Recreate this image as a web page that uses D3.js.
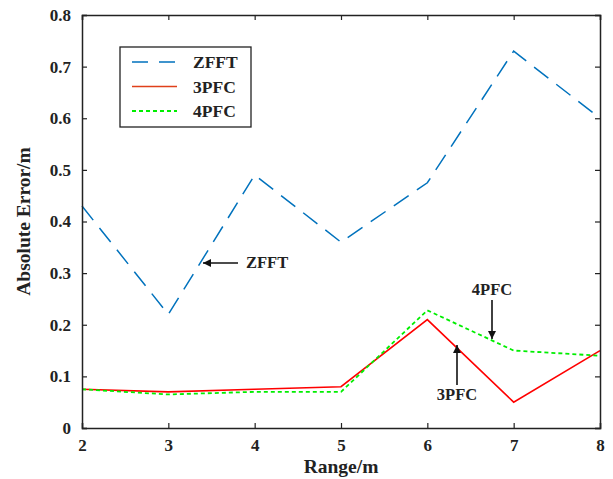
<!DOCTYPE html>
<html>
<head>
<meta charset="utf-8">
<script src="https://cdn.jsdelivr.net/npm/d3@7"></script>
<style>
  body { margin: 0; background: #fff; }
  svg text { font-family: "Liberation Serif", "DejaVu Serif", serif !important; font-weight: bold; fill: #222; }
</style>
</head>
<body>
<svg id="chart" width="613" height="479"></svg>
<script>
// values
const ranges = [2, 3, 4, 5, 6, 7, 8];
const zfft = [0.43, 0.22, 0.49, 0.36, 0.475, 0.73, 0.60];
const pfc3 = [0.075, 0.07, 0.075, 0.08, 0.21, 0.05, 0.15];
const pfc4 = [0.075, 0.065, 0.07, 0.07, 0.228, 0.15, 0.14];
const yTicks = [0, 0.1, 0.2, 0.3, 0.4, 0.5, 0.6, 0.7, 0.8];

const svg = d3.select('#chart');
const plotL = 82, plotR = 600, plotT = 15, plotB = 428;

const x = d3.scaleLinear().domain([2, 8]).range([plotL, plotR]);
const y = d3.scaleLinear().domain([0, 0.8]).range([plotB, plotT]);

const series = [
    {name: 'ZFFT', vals: zfft, color: '#0072BD', dash: '18,10', width: 1.5},
    {name: '3PFC', vals: pfc3, color: '#ff0000', dash: null, width: 1.6},
    {name: '4PFC', vals: pfc4, color: '#00ee00', dash: '4,3', width: 1.8}
];

const line = d3.line().x((d, i) => x(ranges[i])).y(d => y(d));

series.forEach(s => {
    svg.append('path')
        .attr('d', line(s.vals))
        .attr('fill', 'none')
        .attr('stroke', s.color)
        .attr('stroke-width', s.width)
        .attr('stroke-dasharray', s.dash);
});

// axes, ticks pointing inward on all four sides
const tl = 5;
const axisCol = '#222';
svg.append('g').attr('transform', `translate(0,${plotB})`)
    .call(d3.axisBottom(x).tickValues(ranges).tickSize(-tl).tickPadding(11).tickFormat(d3.format('d')));
svg.append('g').attr('transform', `translate(0,${plotT})`)
    .call(d3.axisTop(x).tickValues(ranges).tickSize(-tl).tickFormat(''));
svg.append('g').attr('transform', `translate(${plotL},0)`)
    .call(d3.axisLeft(y).tickValues(yTicks).tickSize(-tl).tickPadding(11).tickFormat(d => d === 0 ? '0' : d3.format('.1f')(d)));
svg.append('g').attr('transform', `translate(${plotR},0)`)
    .call(d3.axisRight(y).tickValues(yTicks).tickSize(-tl).tickFormat(''));

svg.selectAll('.domain').attr('stroke', axisCol).attr('stroke-width', 1.5);
svg.selectAll('.tick line').attr('stroke', axisCol).attr('stroke-width', 1.2);
svg.selectAll('.tick text')
    .style('font-size', '17px')
    .attr('fill', '#222');

// axis titles
svg.append('text')
    .attr('x', (plotL + plotR) / 2).attr('y', 473)
    .attr('text-anchor', 'middle')
    .style('font-size', '19.5px')
    .text('Range/m');
svg.append('text')
    .attr('transform', `translate(30,${(plotT + plotB) / 2}) rotate(-90)`)
    .attr('text-anchor', 'middle')
    .style('font-size', '19.5px')
    .text('Absolute Error/m');

// legend
const lg = svg.append('g').attr('transform', 'translate(120,47)');
lg.append('rect')
    .attr('width', 131).attr('height', 80)
    .attr('fill', '#fff').attr('stroke', '#222').attr('stroke-width', 1.3);
series.forEach((s, i) => {
    const ly = 15 + i * 24.5;
    lg.append('line')
        .attr('x1', 12).attr('x2', 57).attr('y1', ly).attr('y2', ly)
        .attr('stroke', s.name === '3PFC' ? '#e0401a' : s.color)
        .attr('stroke-width', s.width)
        .attr('stroke-dasharray', s.name === 'ZFFT' ? '16,11' : s.dash);
    lg.append('text')
        .attr('x', 73).attr('y', ly + 6)
        .style('font-size', '17.5px')
        .text(s.name);
});

// annotations
svg.append('defs').append('marker')
    .attr('id', 'ah').attr('viewBox', '0 0 10 10')
    .attr('refX', 10).attr('refY', 5)
    .attr('markerUnits', 'userSpaceOnUse')
    .attr('markerWidth', 11).attr('markerHeight', 8)
    .attr('orient', 'auto')
    .append('path').attr('d', 'M0,0 L10,5 L0,10 z').attr('fill', '#111');

const notes = [
    {text: 'ZFFT', tx: 246, ty: 268, anchor: 'start', x1: 238, y1: 263, x2: 203, y2: 263},
    {text: '4PFC', tx: 492, ty: 295, anchor: 'middle', x1: 492, y1: 300, x2: 492, y2: 339},
    {text: '3PFC', tx: 457, ty: 400, anchor: 'middle', x1: 457, y1: 385, x2: 457, y2: 345}
];
notes.forEach(n => {
    svg.append('line')
        .attr('x1', n.x1).attr('y1', n.y1).attr('x2', n.x2).attr('y2', n.y2)
        .attr('stroke', '#111').attr('stroke-width', 1.6)
        .attr('marker-end', 'url(#ah)');
    svg.append('text')
        .attr('x', n.tx).attr('y', n.ty)
        .attr('text-anchor', n.anchor)
        .style('font-size', '16.5px')
        .text(n.text);
});
</script>
</body>
</html>
